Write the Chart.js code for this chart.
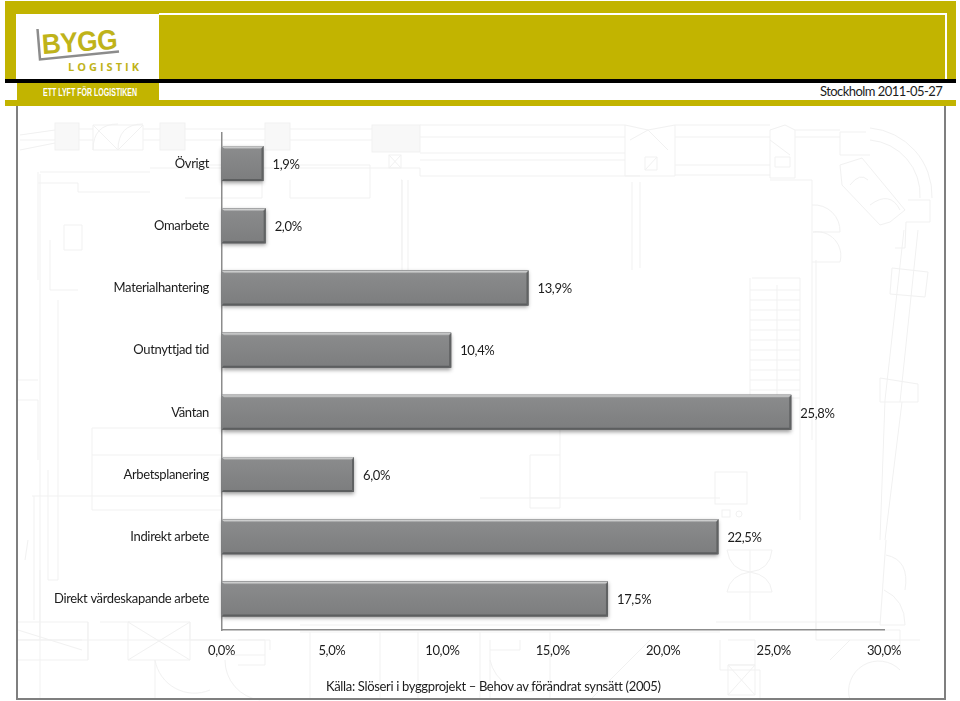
<!DOCTYPE html>
<html lang="sv">
<head>
<meta charset="utf-8">
<title>Bygg Logistik</title>
<script src="https://cdn.jsdelivr.net/npm/chart.js@4"></script>
<style>
html, body { margin: 0; padding: 0; background: #fff; overflow: hidden; }
#page { position: relative; width: 960px; height: 701px; font-family: Lato, "Open Sans", sans-serif; color: #1c1c1c; overflow: hidden; }
#page > * { position: absolute; }
#plan { left: 0; top: 0; }
#plan * { fill: none; stroke: #f1f1f1; stroke-width: 1; }
#plan .solid { fill: #f8f8f8; }
#cv { left: 0; top: 0; }
.olive { background: #c2b400; }
.white { background: #fff; }
.black { background: #000; }
.frame { background: #7f7f7f; }
.txt { white-space: nowrap; line-height: 1; }
</style>
</head>
<body>
<div id="page">
  <svg id="plan" width="960" height="701" viewBox="0 0 960 701">
    <!-- top wall -->
    <rect class="solid" x="55" y="123" width="24" height="27"/>
    <rect class="solid" x="160" y="123" width="25" height="27"/>
    <rect class="solid" x="265" y="123" width="25" height="27"/>
    <rect class="solid" x="372" y="125" width="48" height="27"/>
    <path d="M20 140H55M20 135L55 130M20 150L55 143M79 129H93M143 129H160M185 129H265M290 129H372M420 125H625M675 125H770M795 130H840"/>
    <path d="M79 140H93M143 140H160M185 140H265M290 140H372M420 137H625M675 137H770M795 137H840"/>
    <path d="M40 172H150M150 168H420V176H640M38 183H78V192H150M40 174V700M38 172V280M420 160H625M420 153H625M675 165H770M675 175H770"/>
    <path d="M93 150V125H143V150ZM93 150Q93 124 118 124M143 124Q118 124 118 150M93 125L118 150M143 125L118 150"/>
    <rect x="389" y="155" width="12" height="13"/>
    <path d="M389 155L401 168M389 168L401 155"/>
    <path d="M185 165H262V198H185M290 165H370V198H290V180M401 180H402V260M402 180V275M408 180V270"/>
    <!-- right blocks -->
    <path d="M625 176V125L648 130L675 125V176ZM630 140L648 130L668 150M645 157H657V170H645ZM645 170L657 157"/>
    <path d="M770 178V130L785 125L795 130V178ZM775 157H790V167H775ZM770 140L790 155"/>
    <path d="M632 182V270M640 182V268M770 180H812V200M812 200V260"/>
    <path d="M812 205A26 26 0 0 1 840 232H813M813 232A24 24 0 0 1 840 262H812"/>
    <!-- corner arc -->
    <path d="M870 128A68 68 0 0 1 932 198M870 140A55 55 0 0 1 920 198M866 132H840V155H870M908 200H930V222H906L905 248H895"/>
    <path d="M840 165L862 158L905 210L890 222L880 225L842 185Z"/>
    <path d="M850 185Q860 172 868 180M870 205Q890 190 900 210"/>
    <path d="M904 230L885 400M918 230L900 402M892 268L928 272L925 297L890 294ZM880 378L918 384L918 402L880 402Z"/>
    <!-- stairs -->
    <path d="M750 278V400M752 278H800M750 290H800M750 300H800M750 310H800M750 320H800M750 330H800M750 340H800M750 350H800M750 360H800M750 370H800M750 380H800M750 390H800M750 398H800M800 278V520M777 285V400M812 260V440M816 260V630"/>
    <rect x="715" y="472" width="32" height="32"/>
    <rect x="722" y="510" width="8" height="7"/>
    <circle cx="739" cy="514" r="3"/>
    <!-- inner room -->
    <path d="M92 428H221M92 428V510H221M92 455H221M560 455H530V508H560M32 496H221M34 496V620M480 498H720M560 508V420"/>
    <path d="M530 498H560M40 570V640H221M48 470V580H58V300M50 240V290H78M18 260V380H38M18 200V260M64 225H82V250H64Z"/>
    <path d="M16 400H38V460M40 640H16M25 560L28 540"/>
    <!-- lower doors -->
    <path d="M750 550V620M727 550H772Q770 570 750 572Q730 570 727 550ZM727 592H772Q770 575 750 572Q730 575 727 592Z"/>
    <path d="M886 540L880 625M886 555Q910 560 905 590M880 625H905Q905 600 884 590"/>
    <path d="M885 400L880 540M902 402L885 540"/>
    <!-- bottom band -->
    <path d="M18 622H88V660H18M18 640H82M18 630L82 650M88 622V660M128 622H190V660H128ZM128 622L190 660M128 660L190 622M190 622V640H270V650M100 622H130"/>
    <path d="M300 632H600M300 625H600M310 632V700M380 632V700M418 632V700M480 632V700M550 632V700M720 640V670H760V700M716 622H880M816 622V640H920M600 632H720M880 630H900V650"/>
    <path d="M238 640H265V665H238M225 655H265M155 660V700M155 660A40 40 0 0 0 210 690M225 660A40 40 0 0 0 260 700"/>
    <path d="M728 640H755V665H728M728 665H755V695H728ZM728 665L755 695M728 695L755 665M650 640L590 700M850 640L830 660M850 700A30 30 0 0 1 900 670"/>
    <path d="M490 660A40 40 0 0 0 540 690M490 640V700M520 640V650H490"/>
  </svg>

  <div class="olive" style="left:5px;top:1px;width:951px;height:78px"></div>
  <div class="white" style="left:159px;top:13px;width:787px;height:2px"></div>
  <div class="white" style="left:945px;top:13px;width:2px;height:66px"></div>
  <div class="white" style="left:16px;top:14px;width:143px;height:65px"></div>
  <div class="black" style="left:5px;top:79px;width:951px;height:4px"></div>
  <div class="olive" style="left:17px;top:83px;width:142px;height:17px"></div>
  <div class="olive" style="left:5px;top:100px;width:951px;height:6px"></div>
  <div class="frame" style="left:16px;top:106px;width:2px;height:594px"></div>
  <div class="frame" style="left:944px;top:106px;width:2px;height:594px"></div>
  <div class="frame" style="left:16px;top:698px;width:930px;height:2px"></div>

  <svg style="left:0;top:0" width="160" height="80"><path d="M37.500 29L40 59.500L119 51.500" fill="none" stroke="#8c8c8c" stroke-width="2.500"/></svg>
  <div class="txt" style="left:43px;top:29px;font:bold 28px 'Liberation Sans',sans-serif;color:#bfb31a;letter-spacing:-0.6px;transform:rotate(-4deg) scaleX(0.94);transform-origin:0 100%">BYGG</div>
  <div class="txt" style="left:68px;top:59px;font:bold 11px 'Open Sans',sans-serif;color:#bfb31a;letter-spacing:3px">LOGISTIK</div>
  <div class="txt" style="left:43px;top:86px;font:bold 11px 'Liberation Sans',sans-serif;color:#fff;transform:scaleX(0.64);transform-origin:0 0;width:160px">ETT LYFT FÖR LOGISTIKEN</div>
  <div class="txt" style="left:820px;top:85px;font-size:13px;letter-spacing:-0.55px">Stockholm 2011-05-27</div>

  <canvas id="cv" width="960" height="701"></canvas>

  <div class="txt" style="left:326px;top:680px;font-size:13px;letter-spacing:-0.34px">Källa: Slöseri i byggprojekt – Behov av förändrat synsätt (2005)</div>
</div>
<script>
const categories = ['Övrigt', 'Omarbete', 'Materialhantering', 'Outnyttjad tid', 'Väntan', 'Arbetsplanering', 'Indirekt arbete', 'Direkt värdeskapande arbete'];
const shares = [1.9, 2.0, 13.9, 10.4, 25.8, 6.0, 22.5, 17.5];
const axisMax = 30;
const axisStep = 5;

const fontFamily = 'Lato, "Open Sans", sans-serif';
const fontSize = 13;
const tracking = '-0.35px';

function pct(v) {
    return v.toFixed(1).replace('.', ',') + '%';
}

// Lato runs wider than the original font, tighten it
const tightText = {
    id: 'tightText',
    beforeLayout(chart) { chart.ctx.letterSpacing = tracking; },
    beforeDraw(chart) { chart.ctx.letterSpacing = tracking; }
};

// shadow under the bars
const barShadow = {
    id: 'barShadow',
    beforeDatasetsDraw(chart) {
        const ctx = chart.ctx;
        ctx.save();
        ctx.shadowColor = 'rgba(0,0,0,0.4)';
        ctx.shadowBlur = 4;
        ctx.shadowOffsetX = 0;
        ctx.shadowOffsetY = 2;
        ctx.fillStyle = '#808182';
        chart.getDatasetMeta(0).data.forEach(function(bar) {
            ctx.fillRect(bar.base, bar.y - bar.height / 2, bar.x - bar.base, bar.height);
        });
        ctx.restore();
    }
};

// bevel on the bars and the value labels
const barBevel = {
    id: 'barBevel',
    afterDatasetsDraw(chart) {
        const ctx = chart.ctx;
        const depth = 3;
        chart.getDatasetMeta(0).data.forEach(function(bar, i) {
            const x0 = bar.base;
            const x1 = bar.x;
            const y0 = bar.y - bar.height / 2;
            const y1 = bar.y + bar.height / 2;

            const face = ctx.createLinearGradient(0, y0, 0, y1);
            face.addColorStop(0, '#8b8c8d');
            face.addColorStop(1, '#7c7d7e');
            ctx.fillStyle = face;
            ctx.fillRect(x0, y0, x1 - x0, y1 - y0);

            const top = ctx.createLinearGradient(0, y0, 0, y0 + depth);
            top.addColorStop(0, '#a8a9aa');
            top.addColorStop(0.4, '#cfd0d0');
            top.addColorStop(1, '#8f9091');
            ctx.fillStyle = top;
            ctx.beginPath();
            ctx.moveTo(x0, y0);
            ctx.lineTo(x1, y0);
            ctx.lineTo(x1 - depth, y0 + depth);
            ctx.lineTo(x0 + depth, y0 + depth);
            ctx.closePath();
            ctx.fill();

            ctx.fillStyle = '#606263';
            ctx.beginPath();
            ctx.moveTo(x1, y0);
            ctx.lineTo(x1, y1);
            ctx.lineTo(x1 - depth + 1, y1 - depth + 1);
            ctx.lineTo(x1 - depth + 1, y0 + depth);
            ctx.closePath();
            ctx.fill();

            ctx.fillStyle = '#5c5e5f';
            ctx.beginPath();
            ctx.moveTo(x0, y1);
            ctx.lineTo(x1, y1);
            ctx.lineTo(x1 - depth + 1, y1 - depth + 1);
            ctx.lineTo(x0 + depth - 1, y1 - depth + 1);
            ctx.closePath();
            ctx.fill();

            ctx.fillStyle = '#1c1c1c';
            ctx.font = fontSize + 'px ' + fontFamily;
            ctx.textAlign = 'left';
            ctx.textBaseline = 'middle';
            ctx.fillText(pct(shares[i]), x1 + 9, bar.y + 1);
        });
    }
};

const cv = document.getElementById('cv').getContext('2d');
const chart = new Chart(cv, {
    type: 'bar',
    data: {
        labels: categories,
        datasets: [{
            data: shares,
            backgroundColor: '#808182',
            borderWidth: 0,
            barPercentage: 0.563,
            categoryPercentage: 1
        }]
    },
    options: {
        indexAxis: 'y',
        responsive: false,
        animation: false,
        layout: {
            padding: { left: 0, top: 132.5, right: 76, bottom: 30 }
        },
        plugins: {
            legend: { display: false },
            tooltip: { enabled: false }
        },
        scales: {
            x: {
                min: 0,
                max: axisMax,
                grid: { display: false, drawTicks: false },
                border: { display: true, color: '#8c8c8c', width: 1.5 },
                afterFit(scale) { scale.height = 41; },
                ticks: {
                    stepSize: axisStep,
                    padding: 13,
                    maxRotation: 0,
                    color: '#1c1c1c',
                    font: { family: fontFamily, size: fontSize },
                    callback: function(v) { return pct(v); }
                }
            },
            y: {
                grid: { display: false, drawTicks: false },
                border: { display: true, color: '#8c8c8c', width: 1.5 },
                afterFit(scale) { scale.width = 221.5; },
                ticks: {
                    padding: 12.5,
                    color: '#1c1c1c',
                    font: { family: fontFamily, size: fontSize }
                }
            }
        }
    },
    plugins: [tightText, barShadow, barBevel]
});
</script>
</body>
</html>
